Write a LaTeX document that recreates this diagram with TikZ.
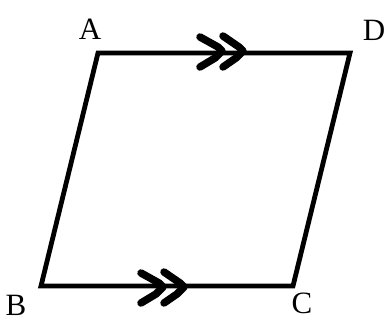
\documentclass[tikz,border=0pt]{standalone}
\usepackage{fontspec}
\setmainfont{Liberation Serif}
\begin{document}
\begin{tikzpicture}[x=1pt,y=-1pt,
  side/.style={line width=4.8pt,line join=miter},
  chev/.style={line width=7.5pt,line cap=round,line join=round},
  lab/.style={font=\fontsize{31}{31}\selectfont,inner sep=0pt}]
\useasboundingbox (0,0) rectangle (389,321);
\coordinate (A) at (98,53);
\coordinate (D) at (350,53);
\coordinate (C) at (293,286);
\coordinate (B) at (41,286);
\draw[side] (A) -- (D) -- (C) -- (B) -- cycle;
% chevrons on AD
\coordinate (t1) at (222,51);
\coordinate (t2) at (243,51);
\draw[chev] ([shift={(-22,-14)}]t1) -- ([shift={(-4,-4)}]t1) -- (t1) -- ([shift={(-7,7)}]t1) -- ([shift={(-22,16)}]t1);
\draw[chev] ([shift={(-20,-15)}]t2) -- ([shift={(-4,-4)}]t2) -- (t2) -- ([shift={(-7,7)}]t2) -- ([shift={(-20,16)}]t2);
% chevrons on BC
\coordinate (b1) at (163,287);
\coordinate (b2) at (184,287);
\draw[chev] ([shift={(-22,-14)}]b1) -- ([shift={(-4,-4)}]b1) -- (b1) -- ([shift={(-7,7)}]b1) -- ([shift={(-22,16)}]b1);
\draw[chev] ([shift={(-20,-15)}]b2) -- ([shift={(-4,-4)}]b2) -- (b2) -- ([shift={(-7,7)}]b2) -- ([shift={(-20,16)}]b2);
\node[lab] (lA) at (90,29) {A};
\node[lab] (lD) at (374,30) {D};
\node[lab] (lB) at (16,305) {B};
\node[lab] (lC) at (302,303) {C};
\end{tikzpicture}
\end{document}
